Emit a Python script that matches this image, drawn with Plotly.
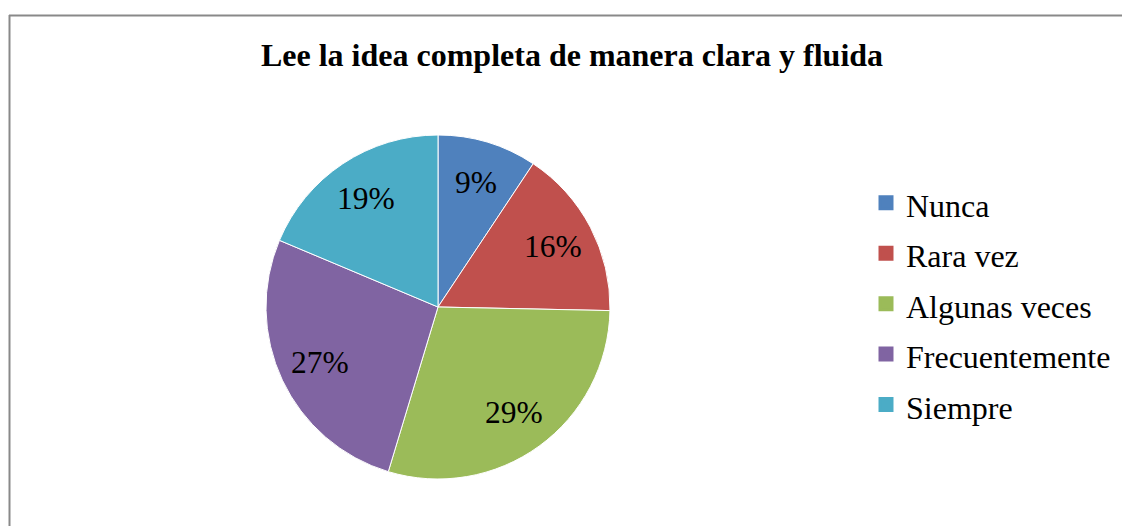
import math
import plotly.graph_objects as go

W, H = 1122, 526

categories = ["Nunca", "Rara vez", "Algunas veces", "Frecuentemente", "Siempre"]
values = [7, 12, 22, 20, 14]  # counts (n = 75) -> 9%, 16%, 29%, 27%, 19%
colors = ["#4F81BD", "#C0504D", "#9BBB59", "#8064A2", "#4BACC6"]
title_text = "Lee la idea completa de manera clara y fluida"

# pie geometry (pixels)
CX, CY, R = 438, 307, 172
LABEL_FRAC = 0.755
LEG_FONT = 32


def px_x(x):
    return x / W


def px_y(y):
    return 1 - y / H


legend_labels = [f'<span style="font-size:{LEG_FONT}px">{c}</span>' for c in categories]

# legend-only pie hidden underneath the visible one (gives larger legend squares)
fig = go.Figure(go.Pie(
    labels=legend_labels,
    values=values,
    sort=False,
    direction="clockwise",
    rotation=0,
    marker=dict(colors=colors, line=dict(color=colors, width=3)),
    textinfo="none",
    domain=dict(x=[px_x(CX - R + 6), px_x(CX + R - 6)], y=[px_y(CY + R - 6), px_y(CY - R + 6)]),
    hoverinfo="skip",
    showlegend=True,
))

fig.add_trace(go.Pie(
    labels=legend_labels,
    values=values,
    sort=False,
    direction="clockwise",
    rotation=0,
    marker=dict(colors=colors, line=dict(color="white", width=1)),
    textinfo="none",
    domain=dict(x=[px_x(CX - R), px_x(CX + R)], y=[px_y(CY + R), px_y(CY - R)]),
    hovertext=categories,
    hoverinfo="text+percent",
    showlegend=False,
))

# data labels placed along each slice's mid-angle (Excel best-fit style)
total = sum(values)
cum = 0
for v in values:
    mid = 2 * math.pi * (cum + v / 2) / total
    cum += v
    lx = CX + LABEL_FRAC * R * math.sin(mid)
    ly = CY - LABEL_FRAC * R * math.cos(mid)
    fig.add_annotation(
        x=px_x(lx), y=px_y(ly), xref="paper", yref="paper",
        text=f"{round(100 * v / total)}%", showarrow=False,
        xanchor="center", yanchor="middle",
        font=dict(family="Liberation Serif", size=31.5, color="black"),
    )

fig.update_layout(
    width=W, height=H,
    margin=dict(l=0, r=0, t=0, b=0),
    paper_bgcolor="white",
    plot_bgcolor="white",
    title=dict(text="<b>" + title_text + "</b>", x=572 / W, xanchor="center",
               y=px_y(55), yanchor="middle",
               font=dict(family="Liberation Serif", size=32, color="black")),
    legend=dict(x=px_x(866), xanchor="left", y=px_y(172.5), yanchor="top",
                font=dict(family="Liberation Serif", size=36.5, color="black"),
                bgcolor="rgba(0,0,0,0)"),
    showlegend=True,
)

fig.add_shape(type="line", xref="paper", yref="paper",
              x0=px_x(9), x1=1.0, y0=px_y(15.5), y1=px_y(15.5),
              line=dict(color="#898989", width=2))
fig.add_shape(type="line", xref="paper", yref="paper",
              x0=px_x(9.5), x1=px_x(9.5), y0=px_y(15), y1=0,
              line=dict(color="#898989", width=2))

fig.write_html("out.html",
               config={"displayModeBar": False},
               post_script="document.body.style.margin='0';document.body.style.padding='0';document.body.style.overflow='hidden';")
